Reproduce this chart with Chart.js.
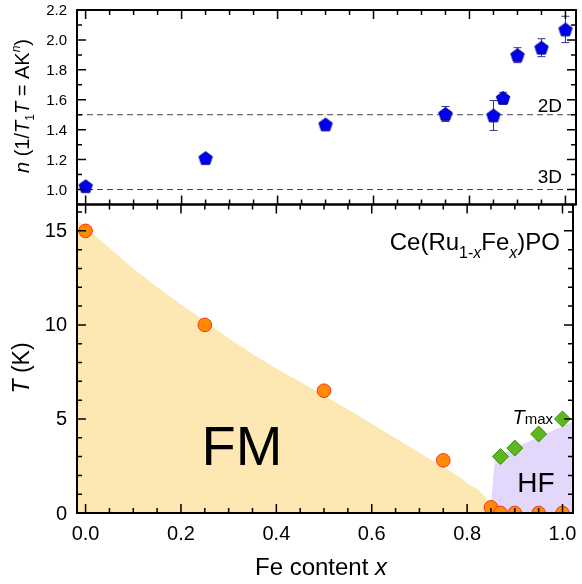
<!DOCTYPE html>
<html>
<head>
<meta charset="utf-8">
<script src="https://cdn.jsdelivr.net/npm/chart.js@4.4.1/dist/chart.umd.min.js"></script>
<style>
  html, body { margin: 0; padding: 0; background: #fff; }
  #wrap { position: relative; width: 582px; height: 584px; }
  #wrap canvas { position: absolute; left: 0; top: 0; }
</style>
</head>
<body>
<div id="wrap">
  <canvas id="lower" width="582" height="584"></canvas>
  <canvas id="upper" width="582" height="584"></canvas>
</div>
<script>
// shared x range (Fe content)
const X_MIN = -0.018
const X_MAX = 1.022
const xTickLabels = [0, 0.2, 0.4, 0.6, 0.8, 1.0]

// upper panel: exponent n of 1/T1T
const nX = [0, 0.25, 0.5, 0.75, 0.85, 0.87, 0.9, 0.95, 1.0]
const nVal = [1.022, 1.21, 1.435, 1.505, 1.495, 1.612, 1.898, 1.948, 2.07]
const nErr = [0.02, 0.012, 0.012, 0.05, 0.10, 0.038, 0.05, 0.06, 0.088]
const n2D = 1.5
const n3D = 1.0
const nTickLabels = [1.0, 1.2, 1.4, 1.6, 1.8, 2.0, 2.2]

// lower panel: phase diagram
const tcX = [0, 0.25, 0.5, 0.75, 0.85, 0.87, 0.9, 0.95, 1.0]
const tcVal = [15, 10, 6.5, 2.8, 0.3, 0, 0, 0, 0]
const tmaxX = [0.87, 0.9, 0.95, 1.0]
const tmaxVal = [3.0, 3.45, 4.2, 5.0]
const fmX = [-0.018, 0, 0.1, 0.25, 0.35, 0.5, 0.6, 0.7, 0.76, 0.8, 0.846, 0.852]
const fmT = [15.6, 15.2, 13.0, 10.2, 8.45, 6.25, 4.75, 3.2, 2.3, 1.6, 0.5, 0]
const hfX = [0.848, 0.859, 1.022]
const hfT = [0, 3.0, 4.86]
const tTickLabels = [0, 5, 10, 15]

const FONT = '"Liberation Sans", Arial, sans-serif'
const pts = (xs, ys) => xs.map((x, i) => ({ x, y: ys[i] }))

// pentagon marker
const pentagon = document.createElement('canvas')
pentagon.width = 16
pentagon.height = 16
{
  const c = pentagon.getContext('2d')
  c.beginPath()
  for (let k = 0; k < 5; k++) {
    const a = -Math.PI / 2 + k * 2 * Math.PI / 5
    const px = 8 + 7 * Math.cos(a)
    const py = 8.6 + 7 * Math.sin(a)
    k ? c.lineTo(px, py) : c.moveTo(px, py)
  }
  c.closePath()
  c.fillStyle = '#0000f0'
  c.fill()
  c.strokeStyle = '#00008a'
  c.lineWidth = 1
  c.stroke()
}

function drawRich (ctx, parts, x, y, align) {
  const font = p => `${p.italic ? 'italic ' : ''}${p.size}px ${FONT}`
  let w = 0
  for (const p of parts) { ctx.font = font(p); w += ctx.measureText(p.t).width }
  let cx = align === 'center' ? x - w / 2 : align === 'right' ? x - w : x
  ctx.textAlign = 'left'
  ctx.textBaseline = 'alphabetic'
  for (const p of parts) {
    ctx.font = font(p)
    ctx.fillText(p.t, cx, y + (p.dy || 0))
    cx += ctx.measureText(p.t).width
  }
}

// frame with inward ticks on all four sides
function frame (opts) {
  return {
    id: 'frame',
    afterDraw (chart) {
      const { ctx, chartArea: a, scales } = chart
      const xs = scales.x
      const ys = scales.y
      ctx.save()
      ctx.strokeStyle = '#000'
      ctx.lineWidth = 1.5
      ctx.beginPath()
      for (let i = 0; i <= 20; i++) {
        const px = xs.getPixelForValue(i * 0.05)
        const len = i % 4 === 0 ? 9 : 5
        ctx.moveTo(px, a.top); ctx.lineTo(px, a.top + len)
        ctx.moveTo(px, a.bottom); ctx.lineTo(px, a.bottom - len)
      }
      for (const t of opts.yTicks()) {
        const py = ys.getPixelForValue(t.v)
        const len = t.major ? 9 : 5
        ctx.moveTo(a.left, py); ctx.lineTo(a.left + len, py)
        ctx.moveTo(a.right, py); ctx.lineTo(a.right - len, py)
      }
      ctx.stroke()
      ctx.lineWidth = 2
      ctx.strokeRect(a.left, a.top, a.right - a.left, a.bottom - a.top)

      ctx.fillStyle = '#000'
      ctx.textAlign = 'right'
      ctx.textBaseline = 'middle'
      ctx.font = `${opts.yFont}px ${FONT}`
      for (const v of opts.yLabels) {
        ctx.fillText(opts.fmt(v), a.left - 10, ys.getPixelForValue(v) + 1)
      }
      if (opts.xLabels) {
        ctx.textAlign = 'center'
        ctx.textBaseline = 'alphabetic'
        ctx.font = `20px ${FONT}`
        for (const v of xTickLabels) ctx.fillText(v.toFixed(1), xs.getPixelForValue(v), a.bottom + 27)
        drawRich(ctx, [{ t: 'Fe content ', size: 24 }, { t: 'x', size: 24, italic: true }], 321, 575, 'center')
      }
      ctx.translate(29, opts.titleY)
      ctx.rotate(-Math.PI / 2)
      drawRich(ctx, opts.title, 0, 0, 'center')
      ctx.restore()
    }
  }
}

const errorBars = {
  id: 'errorBars',
  beforeDatasetsDraw (chart) {
    const { ctx, scales } = chart
    ctx.save()
    ctx.strokeStyle = '#34348a'
    ctx.lineWidth = 1
    ctx.beginPath()
    nX.forEach((x, i) => {
      const px = scales.x.getPixelForValue(x)
      const y1 = scales.y.getPixelForValue(nVal[i] - nErr[i])
      const y2 = scales.y.getPixelForValue(nVal[i] + nErr[i])
      ctx.moveTo(px, y1); ctx.lineTo(px, y2)
      ctx.moveTo(px - 4, y1); ctx.lineTo(px + 4, y1)
      ctx.moveTo(px - 4, y2); ctx.lineTo(px + 4, y2)
    })
    ctx.stroke()
    ctx.restore()
  },
  afterDatasetsDraw (chart) {
    const { ctx, chartArea: a } = chart
    ctx.save()
    ctx.fillStyle = '#000'
    ctx.textAlign = 'right'
    ctx.textBaseline = 'alphabetic'
    ctx.font = `19px ${FONT}`
    ctx.fillText('2D', a.right - 14, chart.scales.y.getPixelForValue(n2D) - 3)
    ctx.fillText('3D', a.right - 14, chart.scales.y.getPixelForValue(n3D) - 7)
    ctx.restore()
  }
}

const phaseLabels = {
  id: 'phaseLabels',
  afterDatasetsDraw (chart) {
    const { ctx, scales } = chart
    const X = v => scales.x.getPixelForValue(v)
    const Y = v => scales.y.getPixelForValue(v)
    ctx.save()
    ctx.fillStyle = '#000'
    drawRich(ctx, [{ t: 'FM', size: 56 }], X(0.243), Y(2.55), 'left')
    drawRich(ctx, [{ t: 'HF', size: 28 }], X(0.905), Y(1.12), 'left')
    drawRich(ctx, [{ t: 'T', size: 20, italic: true }, { t: 'max', size: 15 }], X(0.895), Y(4.73), 'left')
    drawRich(ctx, [
      { t: 'Ce(Ru', size: 24 },
      { t: '1-', size: 16, dy: 8 },
      { t: 'x', size: 16, dy: 8, italic: true },
      { t: 'Fe', size: 24 },
      { t: 'x', size: 16, dy: 8, italic: true },
      { t: ')PO', size: 24 }
    ], 560, 250, 'right')
    ctx.restore()
  }
}

const common = {
  responsive: false,
  animation: false,
  events: [],
  plugins: { legend: { display: false }, tooltip: { enabled: false } }
}

new Chart(document.getElementById('lower'), {
  type: 'scatter',
  data: {
    datasets: [
      {
        label: 'Tc',
        data: pts(tcX, tcVal),
        pointRadius: 6.8,
        backgroundColor: '#ff8c00',
        borderColor: '#ff2d1a',
        borderWidth: 1,
        clip: 0,
        order: 0
      },
      {
        label: 'Tmax',
        data: pts(tmaxX, tmaxVal),
        pointStyle: 'rectRot',
        pointRadius: 8,
        backgroundColor: '#5cb81e',
        borderColor: '#3d8c12',
        borderWidth: 1,
        order: 0
      },
      {
        label: 'FM',
        type: 'line',
        data: pts(fmX, fmT),
        fill: 'origin',
        backgroundColor: '#fde7b3',
        borderWidth: 0,
        pointRadius: 0,
        cubicInterpolationMode: 'monotone',
        order: 3
      },
      {
        label: 'HF',
        type: 'line',
        data: pts(hfX, hfT),
        fill: 'origin',
        backgroundColor: '#e3d8fb',
        borderWidth: 0,
        pointRadius: 0,
        order: 3
      }
    ]
  },
  options: {
    ...common,
    layout: { padding: { left: 77, right: 6, top: 204.5, bottom: 71 } },
    scales: {
      x: { type: 'linear', min: X_MIN, max: X_MAX, display: false },
      y: { type: 'linear', min: 0, max: 16.4, display: false }
    }
  },
  plugins: [phaseLabels, frame({
    yTicks: () => Array.from({ length: 17 }, (_, i) => ({ v: i, major: i % 5 === 0 })),
    yLabels: tTickLabels,
    yFont: 20,
    fmt: v => String(v),
    xLabels: true,
    titleY: 368,
    title: [{ t: 'T', size: 23, italic: true }, { t: ' (K)', size: 23 }]
  })]
})

new Chart(document.getElementById('upper'), {
  type: 'scatter',
  data: {
    datasets: [
      {
        label: 'n',
        data: pts(nX, nVal),
        pointStyle: pentagon,
        order: 0
      },
      {
        label: '2D',
        type: 'line',
        data: [{ x: X_MIN, y: n2D }, { x: X_MAX, y: n2D }],
        borderColor: '#444',
        borderWidth: 1,
        borderDash: [6, 4],
        pointRadius: 0,
        order: 1
      },
      {
        label: '3D',
        type: 'line',
        data: [{ x: X_MIN, y: n3D }, { x: X_MAX, y: n3D }],
        borderColor: '#444',
        borderWidth: 1,
        borderDash: [6, 4],
        pointRadius: 0,
        order: 1
      }
    ]
  },
  options: {
    ...common,
    layout: { padding: { left: 77, right: 6, top: 10, bottom: 379.5 } },
    scales: {
      x: { type: 'linear', min: X_MIN, max: X_MAX, display: false },
      y: { type: 'linear', min: 0.9, max: 2.2, display: false }
    }
  },
  plugins: [errorBars, frame({
    yTicks: () => Array.from({ length: 14 }, (_, i) => ({ v: 0.9 + i * 0.1, major: i % 2 === 1 })),
    yLabels: nTickLabels,
    yFont: 15,
    fmt: v => v.toFixed(1),
    xLabels: false,
    titleY: 106,
    title: [
      { t: 'n', size: 20, italic: true },
      { t: ' (1/', size: 20 },
      { t: 'T', size: 20, italic: true },
      { t: '1', size: 12, dy: 5 },
      { t: 'T', size: 20, italic: true },
      { t: ' = AK', size: 20 },
      { t: 'n', size: 12, dy: -9, italic: true },
      { t: ')', size: 20 }
    ]
  })]
})
</script>
</body>
</html>
